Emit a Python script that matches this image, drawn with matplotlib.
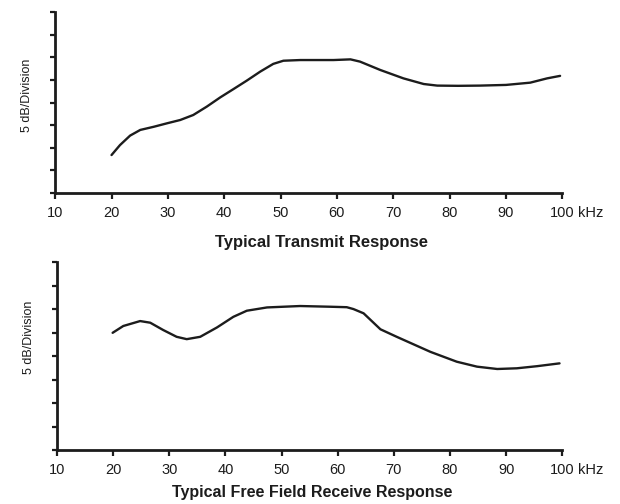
import matplotlib
matplotlib.use("Agg")
from matplotlib import pyplot as plt

# Transmit response (kHz, divisions of 5 dB)
tx_freq = [20.0, 21.5, 23.3, 25.1, 27.5, 29.8, 32.2, 34.5, 36.9, 39.3, 41.6, 44.0,
           46.4, 48.7, 50.5, 53.5, 56.5, 59.4, 62.4, 64.1, 67.7, 71.8, 75.4, 77.8,
           81.5, 85.4, 90.0, 94.3, 97.3, 99.6]
tx_level = [1.68, 2.12, 2.54, 2.79, 2.93, 3.08, 3.23, 3.45, 3.82, 4.23, 4.59, 4.97,
            5.37, 5.71, 5.85, 5.88, 5.88, 5.88, 5.91, 5.81, 5.44, 5.07, 4.82, 4.75,
            4.74, 4.75, 4.78, 4.88, 5.07, 5.18]

# Free field receive response
rx_freq = [19.9, 21.8, 24.8, 26.6, 28.9, 31.3, 33.1, 35.5, 38.5, 41.4, 43.8, 47.4,
           53.3, 58.6, 61.6, 62.8, 64.6, 67.6, 70.5, 73.5, 76.5, 81.2, 84.8, 88.4,
           91.9, 95.5, 99.5]
rx_level = [4.99, 5.28, 5.49, 5.42, 5.11, 4.82, 4.72, 4.82, 5.22, 5.67, 5.93, 6.07,
            6.13, 6.1, 6.08, 6.0, 5.82, 5.14, 4.82, 4.5, 4.18, 3.76, 3.55, 3.45,
            3.48, 3.57, 3.69]

x_ticks = [10, 20, 30, 40, 50, 60, 70, 80, 90, 100]
titles = ["Typical Transmit Response", "Typical Free Field Receive Response"]

plt.rcParams['font.family'] = ['Liberation Sans', 'DejaVu Sans']
ink = "#1c1c1c"

fig = plt.figure(figsize=(6.2, 5.04), dpi=100)
ax_top = fig.add_axes([0.089, 0.617, 0.818, 0.359])
ax_bot = fig.add_axes([0.092, 0.107, 0.815, 0.373])

# axes, x, y, title, title size, title pad, title x, ylabel y
panels = [(ax_top, tx_freq, tx_level, titles[0], 12, 11, 0.525, 0.54),
          (ax_bot, rx_freq, rx_level, titles[1], 11.5, 6, 0.505, 0.6)]

for ax, f, lvl, title, tsize, tpad, tx, ly in panels:
    ax.plot(f, lvl, color=ink, lw=1.7, solid_capstyle="round", solid_joinstyle="round")
    ax.set_xlim(10, 100)
    ax.set_ylim(0, 8)
    ax.set_xticks(x_ticks)
    ax.set_xticklabels([str(t) for t in x_ticks], fontsize=10.5, color=ink)
    ax.set_yticks(range(9))
    ax.set_yticklabels([])
    for side in ["top", "right"]:
        ax.spines[side].set_visible(False)
    for side in ["left", "bottom"]:
        ax.spines[side].set_linewidth(2)
        ax.spines[side].set_color(ink)
    ax.tick_params(axis="x", direction="out", length=4, width=1.6, color=ink, pad=5)
    ax.tick_params(axis="y", direction="out", length=3.5, width=1.6, color=ink)
    ax.set_ylabel("5 dB/Division", fontsize=9, color=ink, labelpad=9)
    ax.yaxis.label.set_y(ly)
    ax.set_xlabel(title, fontsize=tsize, fontweight="bold", color=ink, labelpad=tpad)
    ax.xaxis.label.set_x(tx)
    ax.annotate("kHz", xy=(100, 0), xycoords="data", xytext=(11, -9),
                textcoords="offset points", ha="left", va="top",
                fontsize=10.5, color=ink, annotation_clip=False)

fig.savefig("out.png", dpi=100)
